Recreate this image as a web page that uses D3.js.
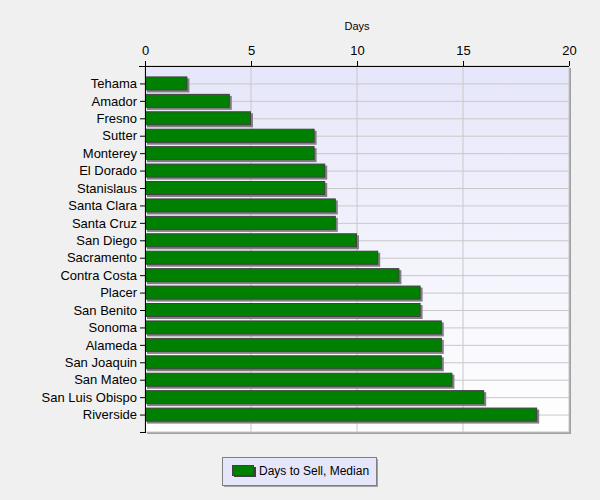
<!DOCTYPE html>
<html><head><meta charset="utf-8">
<script src="https://cdn.jsdelivr.net/npm/d3@7"></script>
<style>body{margin:0;background:#f0f0f0;}svg{display:block;}</style>
</head><body><svg id="c" width="600" height="500"></svg>
<script>
const categories = ["Tehama","Amador","Fresno","Sutter","Monterey","El Dorado","Stanislaus","Santa Clara","Santa Cruz","San Diego","Sacramento","Contra Costa","Placer","San Benito","Sonoma","Alameda","San Joaquin","San Mateo","San Luis Obispo","Riverside"];
const values = [2,4,5,8,8,8.5,8.5,9,9,10,11,12,13,13,14,14,14,14.5,16,18.5];
const xTicks = [0,5,10,15,20];
const seriesName = "Days to Sell, Median";
const axisTitle = "Days";

const svg = d3.select("#c");
const L=145, R=569, T=66, B=432;
const x = d3.scaleLinear().domain([0,20]).range([L,R]);
const y = d3.scalePoint().domain(categories).range([T,B]).padding(1);
const font = "'Liberation Sans', Arial, sans-serif";

const defs = svg.append("defs");
const g = defs.append("linearGradient").attr("id","bg").attr("x1",0).attr("y1",0).attr("x2",0).attr("y2",1);
g.append("stop").attr("offset","0%").attr("stop-color","#e6e6fa");
g.append("stop").attr("offset","100%").attr("stop-color","#ffffff");

// plot shadow
svg.append("rect").attr("x",L+2).attr("y",T+2).attr("width",R-L).attr("height",B-T).attr("fill","#a0a0a0");
svg.append("rect").attr("x",L).attr("y",T).attr("width",R-L).attr("height",B-T).attr("fill","url(#bg)").attr("stroke","#c8c8c8");

// grid
svg.append("g").selectAll("line").data(xTicks.slice(1,-1)).join("line")
  .attr("x1",d=>x(d)).attr("x2",d=>x(d)).attr("y1",T).attr("y2",B).attr("stroke","#c8c8c8");
svg.append("g").selectAll("line").data(categories).join("line")
  .attr("x1",L).attr("x2",R).attr("y1",d=>y(d)+0.5).attr("y2",d=>y(d)+0.5).attr("stroke","#c8c8c8");

const bh = 14;
// bar shadows
svg.append("g").selectAll("rect").data(values).join("rect")
  .attr("x",L+2).attr("y",(d,i)=>y(categories[i])-bh/2+2).attr("width",d=>x(d)-L).attr("height",bh).attr("fill","#808080");
svg.append("g").selectAll("rect").data(values).join("rect")
  .attr("x",L+0.5).attr("y",(d,i)=>y(categories[i])-bh/2+0.5).attr("width",d=>x(d)-L-1).attr("height",bh-1)
  .attr("fill","#008000").attr("stroke","#404040");

// axes
const xa = svg.append("g").attr("transform",`translate(0,${T})`)
  .call(d3.axisTop(x).tickValues(xTicks).tickSize(5).tickPadding(6));
xa.select(".domain").attr("d",`M${L-6},0.5H${R}`).attr("stroke","#000");
xa.selectAll("text").attr("font-family",font).attr("font-size",13).attr("fill","#000");
xa.selectAll(".tick line").attr("stroke","#000");

const ya = svg.append("g").attr("transform",`translate(${L},0)`)
  .call(d3.axisLeft(y).tickSize(5).tickPadding(3));
ya.select(".domain").attr("d",`M0.5,${T}V${B+1}`).attr("stroke","#000");
ya.selectAll("text").attr("font-family",font).attr("font-size",13).attr("fill","#000");
ya.selectAll(".tick line").attr("stroke","#000");
svg.append("line").attr("x1",L-5).attr("x2",L).attr("y1",B+0.5).attr("y2",B+0.5).attr("stroke","#000");

svg.append("text").attr("x",(L+R)/2).attr("y",30).attr("text-anchor","middle")
  .attr("font-family",font).attr("font-size",11).text(axisTitle);

// legend
const lg = svg.append("g").attr("transform","translate(222,457)");
lg.append("rect").attr("x",2).attr("y",2).attr("width",154).attr("height",28).attr("fill","#a0a0a0");
lg.append("rect").attr("x",0.5).attr("y",0.5).attr("width",154).attr("height",28).attr("fill","#e6e6fa").attr("stroke","#808080");
lg.append("rect").attr("x",12).attr("y",10).attr("width",22).attr("height",10).attr("fill","#404040");
lg.append("rect").attr("x",10.5).attr("y",8.5).attr("width",21).attr("height",10).attr("fill","#008000").attr("stroke","#404040");
lg.append("text").attr("x",37).attr("y",18).attr("font-family",font).attr("font-size",12).text(seriesName);
</script></body></html>
